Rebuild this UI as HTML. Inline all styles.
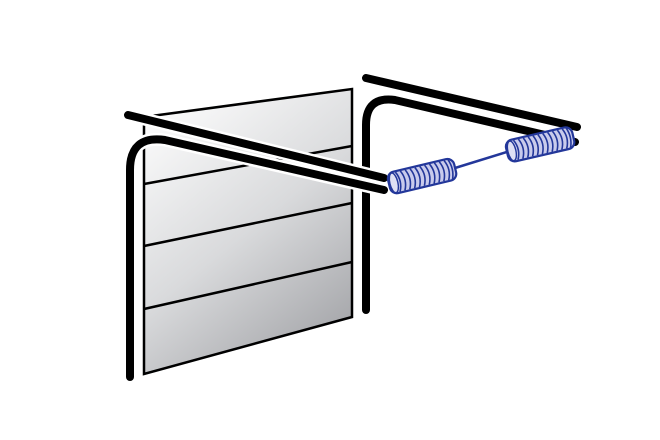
<!DOCTYPE html>
<html><head><style>html,body{margin:0;padding:0;background:#fff;}svg{display:block}</style></head>
<body>
<svg width="660" height="440" viewBox="0 0 660 440" xmlns="http://www.w3.org/2000/svg">
<defs>
<linearGradient id="g" x1="144" y1="100" x2="352" y2="360" gradientUnits="userSpaceOnUse">
<stop offset="0" stop-color="#ffffff"/><stop offset="0.5" stop-color="#d9dadc"/><stop offset="1" stop-color="#9c9da1"/>
</linearGradient>
<g id="coil">
<rect x="0" y="-11" width="68" height="22" rx="7" fill="#c9cbec" stroke="#23379a" stroke-width="2.2"/>
<path d="M9,-10 q5,10 0,20 M14,-10 q5,10 0,20 M19,-10 q5,10 0,20 M24,-10 q5,10 0,20 M29,-10 q5,10 0,20 M34,-10 q5,10 0,20 M39,-10 q5,10 0,20 M44,-10 q5,10 0,20 M49,-10 q5,10 0,20 M54,-10 q5,10 0,20 M59,-10 q5,10 0,20 M63,-10 q4,10 0,20" fill="none" stroke="#23379a" stroke-width="1.6"/>
<ellipse cx="5" cy="0" rx="4" ry="10" fill="#dfe0f4" stroke="#23379a" stroke-width="1.4"/>
</g>
</defs>
<polygon points="144,117 352,89 352,317 144,374" fill="url(#g)" stroke="#000" stroke-width="2.5"/>
<line x1="144" y1="184" x2="352" y2="146" stroke="#000" stroke-width="2.5"/>
<line x1="144" y1="246" x2="352" y2="203" stroke="#000" stroke-width="2.5"/>
<line x1="144" y1="309" x2="352" y2="262" stroke="#000" stroke-width="2.5"/>
<path d="M366,310 L366,125 Q366,96 395,100 L575,142" fill="none" stroke="#fff" stroke-width="13" stroke-linecap="round"/>
<path d="M366,310 L366,125 Q366,96 395,100 L575,142" fill="none" stroke="#000" stroke-width="8" stroke-linecap="round"/>
<line x1="366" y1="78" x2="577" y2="127" stroke="#fff" stroke-width="13" stroke-linecap="round"/>
<line x1="366" y1="78" x2="577" y2="127" stroke="#000" stroke-width="8" stroke-linecap="round"/>
<path d="M130,377 L130,170 Q130,135 165,140 L384,190" fill="none" stroke="#fff" stroke-width="13" stroke-linecap="round"/>
<path d="M130,377 L130,170 Q130,135 165,140 L384,190" fill="none" stroke="#000" stroke-width="8" stroke-linecap="round"/>
<line x1="128" y1="115" x2="384" y2="178" stroke="#fff" stroke-width="13" stroke-linecap="round"/>
<line x1="128" y1="115" x2="384" y2="178" stroke="#000" stroke-width="8" stroke-linecap="round"/>
<line x1="455" y1="168" x2="510" y2="151" stroke="#23379a" stroke-width="2.5"/>
<use href="#coil" transform="translate(389,184) rotate(-13.4)"/>
<use href="#coil" transform="translate(507,152) rotate(-13)"/>
</svg>
</body></html>
